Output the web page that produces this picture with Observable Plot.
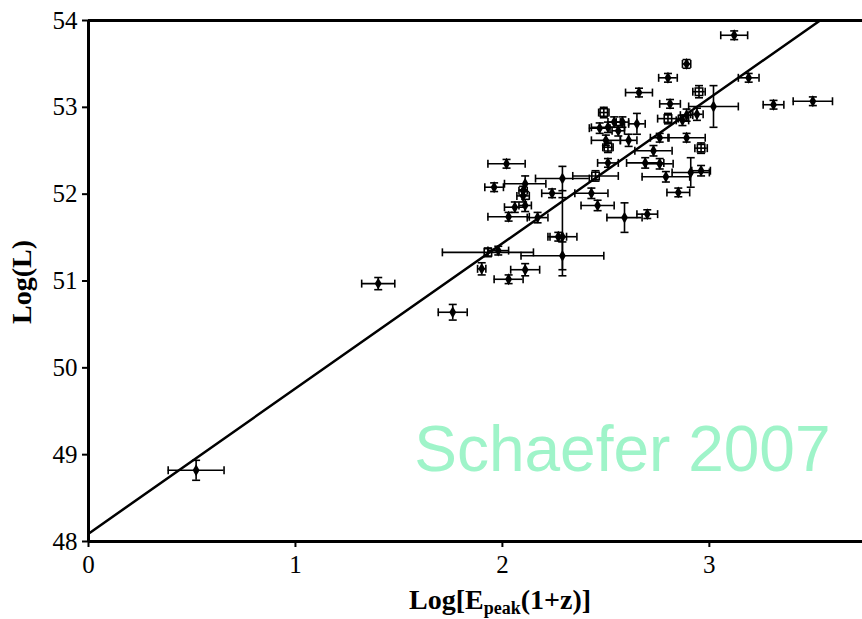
<!DOCTYPE html>
<html>
<head>
<meta charset="utf-8">
<script src="https://cdn.jsdelivr.net/npm/d3@7"></script>
<script src="https://cdn.jsdelivr.net/npm/@observablehq/plot@0.6"></script>
<style>
  html, body { margin: 0; padding: 0; background: #fff; }
  #chart { width: 862px; height: 619px; overflow: hidden; }
</style>
</head>
<body>
<div id="chart"></div>
<script>
// Log[E_peak(1+z)] values
const logE = [0.52,1.40,1.76,1.90,2.03,2.11,1.93,2.29,2.29,2.27,2.29,2.02,1.96,2.11,2.24,2.45,2.43,2.46,2.59,2.70,
  2.10,2.11,2.06,2.03,2.17,1.98,2.49,2.51,2.56,2.58,2.50,2.51,2.51,3.12,2.89,2.80,3.19,2.66,2.95,3.02,
  2.81,3.31,3.50,2.89,2.94,2.87,2.80,2.65,2.76,2.89,2.96,2.73,2.76,2.69,2.79,2.91,2.96,2.85,2.61,2.54,2.47,2.10];
// Log(L) values
const logL = [48.82,50.97,50.64,51.14,51.02,51.13,51.33,51.29,51.51,51.51,52.18,52.35,52.08,52.12,52.01,52.21,52.01,51.87,51.73,51.77,
  51.98,51.87,51.85,51.74,51.73,51.35,52.94,52.77,52.73,52.83,52.62,52.54,52.36,53.83,53.50,53.34,53.34,53.17,53.18,53.01,
  53.04,53.03,53.07,52.91,52.92,52.85,52.87,52.81,52.65,52.65,52.53,52.50,52.35,52.36,52.20,52.25,52.27,52.02,52.62,52.83,52.76,52.04];
// 1-sigma errors in Log[E_peak(1+z)]
const errE = [0.135,0.08,0.07,0.02,0.07,0.07,0.22,0.20,0.07,0.04,0.13,0.09,0.045,0.10,0.05,0.11,0.08,0.08,0.085,0.05,
  0.03,0.03,0.05,0.10,0.05,0.05,0.025,0.08,0.03,0.03,0.07,0.025,0.05,0.065,0.02,0.045,0.05,0.065,0.03,0.12,
  0.05,0.05,0.095,0.03,0.03,0.03,0.05,0.04,0.045,0.09,0.03,0.09,0.065,0.09,0.115,0.09,0.045,0.055,0.04,0.03,0.05,0.02];
// 1-sigma errors in Log(L)
const errL = [0.115,0.07,0.09,0.07,0.05,0.07,0.05,0.16,0.45,0.05,0.14,0.05,0.05,0.09,0.05,0.06,0.06,0.06,0.17,0.05,
  0.07,0.07,0.06,0.05,0.06,0.05,0.06,0.06,0.06,0.06,0.06,0.06,0.05,0.05,0.05,0.05,0.05,0.05,0.07,0.24,
  0.05,0.05,0.05,0.07,0.07,0.06,0.06,0.12,0.05,0.05,0.06,0.06,0.06,0.06,0.06,0.17,0.06,0.05,0.07,0.06,0.06,0.05];
// marker kind: "d" filled, "s" open square
const kind = ["d","d","d","d","d","d","s","d","d","d","d","d","d","d","d","s","d","d","d","d",
  "d","d","d","d","d","d","s","d","d","d","d","s","d","d","d","d","d","d","s","d",
  "d","d","d","d","d","d","s","d","d","d","s","d","d","d","d","d","d","d","d","d","d","d"];
// best-fit line endpoints
const fitX = [0, 3.535];
const fitY = [48.09, 54.0];
const xTicks = [0, 1, 2, 3];
const yTicks = [48, 49, 50, 51, 52, 53, 54];

const rows = logE.map((x, i) => ({x, y: logL[i], xe: errE[i], ye: errL[i], k: kind[i]}));
const fit = fitX.map((x, i) => ({x, y: fitY[i]}));

const vcap = {draw(c) { c.moveTo(0, -4); c.lineTo(0, 4); }};
const hcap = {draw(c) { c.moveTo(-4, 0); c.lineTo(4, 0); }};

const chart = Plot.plot({
  width: 862, height: 619,
  marginLeft: 88, marginRight: 0, marginTop: 20, marginBottom: 78,
  x: {domain: [0, 3.74]},
  y: {domain: [48, 54]},
  style: {fontFamily: "'Liberation Serif', serif", fontSize: "25px", color: "black", background: "white"},
  marks: [
    Plot.axisX({ticks: xTicks, tickFormat: d3.format("d"), tickSize: 6, tickPadding: 8, label: null, strokeWidth: 2, fontSize: 25}),
    Plot.axisY({ticks: yTicks, tickFormat: d3.format("d"), tickSize: 6, tickPadding: 5, label: null, strokeWidth: 2, fontSize: 25}),
    Plot.text(["Schaefer 2007"], {frameAnchor: "bottom-right", textAnchor: "end", lineAnchor: "bottom",
      dx: -32, dy: -71, fontFamily: "'Liberation Sans', Arial, sans-serif", fontSize: 64, fill: "#9ff4c9"}),
    Plot.ruleY(rows, {y: "y", x1: d => d.x - d.xe, x2: d => d.x + d.xe, strokeWidth: 1.6}),
    Plot.ruleX(rows, {x: "x", y1: d => d.y - d.ye, y2: d => d.y + d.ye, strokeWidth: 1.6}),
    Plot.dot(rows, {x: d => d.x - d.xe, y: "y", symbol: vcap, fill: "none", stroke: "black", strokeWidth: 1.6}),
    Plot.dot(rows, {x: d => d.x + d.xe, y: "y", symbol: vcap, fill: "none", stroke: "black", strokeWidth: 1.6}),
    Plot.dot(rows, {x: "x", y: d => d.y - d.ye, symbol: hcap, fill: "none", stroke: "black", strokeWidth: 1.6}),
    Plot.dot(rows, {x: "x", y: d => d.y + d.ye, symbol: hcap, fill: "none", stroke: "black", strokeWidth: 1.6}),
    Plot.dot(rows.filter(d => d.k === "d"), {x: "x", y: "y", symbol: "diamond", r: 3.6, fill: "black"}),
    Plot.dot(rows.filter(d => d.k === "s"), {x: "x", y: "y", symbol: "square", r: 4.2, fill: "none", stroke: "black", strokeWidth: 1.6}),
    Plot.line(fit, {x: "x", y: "y", stroke: "black", strokeWidth: 2.5}),
    Plot.ruleY([48, 54], {strokeWidth: 3}),
    Plot.ruleX([0], {strokeWidth: 3})
  ]
});

const svg = d3.select(chart);
// y axis title
svg.append("text")
  .attr("transform", "translate(31,282) rotate(-90)")
  .attr("text-anchor", "middle")
  .attr("font-family", "'Liberation Serif', serif")
  .attr("font-weight", "bold")
  .attr("font-size", 28)
  .attr("fill", "black")
  .text("Log(L)");
// x axis title with subscript
const xt = svg.append("text")
  .attr("x", 500).attr("y", 609)
  .attr("text-anchor", "middle")
  .attr("font-family", "'Liberation Serif', serif")
  .attr("font-weight", "bold")
  .attr("font-size", 28)
  .attr("fill", "black");
xt.append("tspan").text("Log[E");
xt.append("tspan").attr("dy", 5).attr("font-size", 18).text("peak");
xt.append("tspan").attr("dy", -5).text("(1+z)]");

document.getElementById("chart").appendChild(chart);
</script>
</body>
</html>
